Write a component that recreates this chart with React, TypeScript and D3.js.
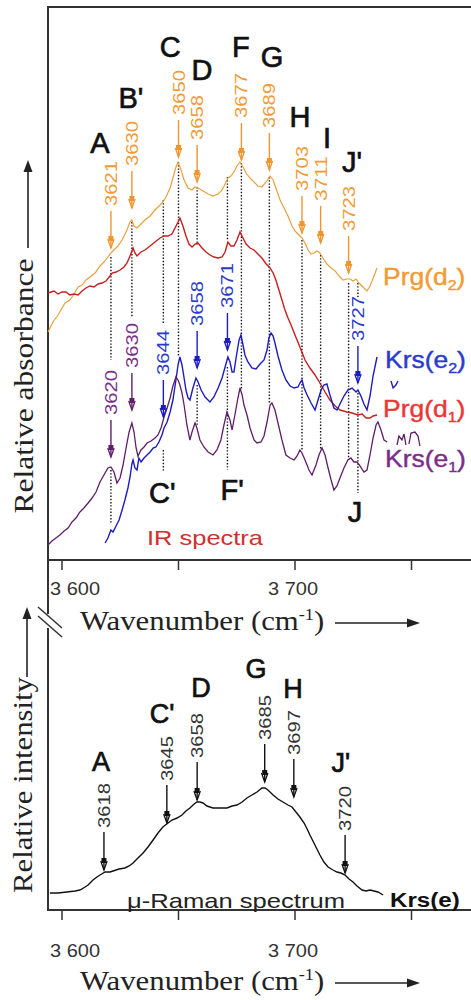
import React from "react";
import * as d3 from "d3";

// ---------------- data ----------------
// IR spectra, relative absorbance (arbitrary units) vs wavenumber (cm-1)
const prgD2Wn = [3594.0,3596.1,3598.3,3601.3,3603.4,3605.2,3606.9,3608.6,3610.3,3612.0,3614.2,3616.3,3618.0,3619.7,3621.0,3622.3,3624.0,3625.8,3627.5,3629.2,3630.0,3630.9,3632.2,3633.9,3635.6,3637.8,3639.9,3642.1,3643.3,3644.6,3646.4,3647.6,3648.9,3649.8,3651.1,3652.4,3654.1,3655.8,3657.1,3658.4,3660.5,3662.7,3664.8,3667.0,3668.7,3670.0,3671.2,3672.5,3673.8,3675.1,3676.4,3677.7,3679.0,3680.7,3682.4,3684.1,3685.8,3687.6,3689.3,3690.6,3691.8,3693.6,3695.3,3697.0,3698.7,3700.4,3702.1,3703.0,3704.3,3705.6,3706.9,3708.2,3709.4,3710.7,3712.0,3713.7,3715.5,3717.2,3718.9,3720.6,3722.3,3723.6,3724.9,3726.2,3727.5,3729.2,3730.9,3732.2,3733.9,3735.2];
const prgD2Abs = [45.6,47.6,49.0,51.4,52.0,53.2,54.6,55.0,56.0,56.6,57.4,58.8,59.6,60.6,61.4,62.0,62.8,64.0,65.6,67.6,68.0,66.8,66.4,67.2,68.0,68.8,70.0,71.0,71.6,72.6,74.4,76.4,78.6,79.6,78.0,76.0,74.4,74.0,74.6,74.4,73.8,73.2,72.8,73.2,74.0,75.2,76.4,76.8,77.6,78.8,79.6,78.6,77.4,76.4,75.6,74.8,74.6,75.6,76.8,76.0,74.4,72.0,70.4,68.8,66.8,65.6,64.8,64.4,63.4,62.0,61.2,61.4,61.8,61.4,60.4,59.2,58.4,57.8,56.8,56.0,56.2,56.2,55.8,56.2,55.4,54.6,53.8,54.8,56.8,58.4];

const prgD1Wn = [3594.0,3596.6,3598.3,3600.0,3601.7,3603.4,3605.2,3606.9,3608.6,3610.3,3612.0,3613.7,3615.5,3617.2,3618.9,3620.6,3621.5,3623.2,3624.9,3626.6,3627.9,3629.2,3630.5,3631.3,3632.2,3633.9,3635.6,3637.8,3639.9,3642.1,3643.8,3645.5,3647.2,3648.5,3649.8,3650.6,3651.9,3653.2,3654.5,3655.8,3657.1,3658.4,3660.1,3661.8,3663.5,3665.2,3667.0,3668.7,3670.0,3671.2,3672.5,3673.8,3675.1,3676.4,3677.7,3679.0,3680.7,3682.4,3684.1,3685.8,3687.6,3689.3,3690.6,3691.8,3693.1,3694.4,3695.7,3697.0,3698.3,3700.0,3702.1,3704.3,3706.4,3708.6,3710.7,3712.9,3715.0,3717.2,3719.3,3722.3,3724.5,3727.0,3728.8,3730.5,3732.2,3733.5,3735.2];
const prgD1Abs = [53.4,53.8,53.2,53.6,53.6,53.0,53.2,53.0,53.8,54.4,54.8,54.6,55.2,55.4,55.8,56.8,57.4,57.6,58.0,58.6,59.4,60.8,62.4,61.4,60.8,61.6,62.0,62.8,63.6,64.4,64.8,64.8,65.2,66.4,67.6,68.4,66.8,64.8,63.2,62.6,63.2,63.4,62.4,61.6,61.0,60.6,60.4,60.6,61.6,63.6,62.8,62.8,64.0,65.6,64.4,63.2,62.4,62.0,61.2,60.4,59.2,58.4,57.4,56.0,54.0,52.0,50.0,48.4,47.0,45.0,42.6,40.0,38.4,37.0,35.4,33.6,32.0,30.8,30.0,29.6,29.4,29.0,29.2,28.4,28.4,28.8,29.0];

const krsE2Wn = [3618.5,3619.7,3621.0,3621.9,3623.2,3624.5,3625.8,3627.0,3628.3,3629.2,3630.0,3630.5,3631.3,3632.2,3633.0,3633.9,3635.2,3636.5,3637.8,3639.1,3640.3,3641.6,3642.9,3643.8,3645.1,3646.4,3647.6,3648.9,3649.8,3650.6,3651.5,3652.4,3653.2,3654.1,3654.9,3656.2,3657.5,3658.4,3659.7,3661.4,3663.5,3665.2,3667.0,3668.7,3670.0,3671.2,3672.1,3673.0,3673.8,3674.7,3676.0,3676.8,3677.7,3678.5,3679.8,3681.5,3683.3,3685.0,3686.7,3688.0,3688.8,3689.7,3690.6,3691.4,3692.7,3694.4,3696.1,3697.9,3699.6,3701.3,3702.1,3703.0,3703.9,3705.2,3706.9,3708.6,3709.9,3711.2,3712.4,3713.7,3715.0,3716.7,3718.0,3719.3,3721.0,3722.7,3724.5,3726.2,3727.0,3728.3,3729.6,3730.9,3732.2,3733.5,3735.2];
const krsE2Abs = [3.4,4.4,6.0,5.6,6.8,8.0,10.0,12.0,14.4,16.6,19.2,20.0,18.4,18.0,20.4,19.6,20.4,21.0,21.6,22.4,22.6,23.6,25.0,26.4,27.6,29.6,32.0,36.0,39.0,40.6,39.0,36.4,34.0,32.4,32.0,34.4,36.4,35.6,34.0,32.6,31.6,32.6,34.4,36.4,38.6,40.6,39.6,37.6,37.6,40.4,44.0,45.0,43.0,41.0,39.6,38.4,38.2,39.2,40.0,42.0,44.4,45.4,44.8,43.4,40.8,38.0,36.0,34.8,34.4,34.6,35.4,36.0,34.4,33.0,31.4,30.0,32.0,34.0,35.0,35.2,33.0,30.4,30.0,31.2,32.8,34.0,34.4,33.6,34.0,32.8,31.2,30.0,32.8,36.8,40.6];
const krsE2FragWn = [3741.2,3742.1,3743.3,3744.2];
const krsE2FragAbs = [35.8,34.4,35.0,35.8];

const krsE1Wn = [3594.0,3595.7,3597.4,3599.1,3600.9,3602.6,3604.3,3606.0,3607.7,3609.4,3611.2,3612.9,3614.6,3616.3,3618.0,3619.7,3621.0,3622.3,3623.6,3624.9,3626.2,3627.5,3628.8,3630.0,3630.9,3631.8,3632.6,3633.9,3635.2,3636.5,3638.2,3639.9,3641.2,3642.5,3643.8,3645.1,3646.4,3647.6,3648.9,3649.8,3650.6,3651.5,3652.4,3653.6,3654.9,3655.8,3657.1,3657.9,3659.2,3660.9,3662.7,3664.8,3666.5,3668.2,3669.5,3670.8,3672.1,3673.0,3674.2,3675.5,3676.4,3677.3,3678.1,3679.4,3680.7,3682.4,3683.7,3685.4,3686.7,3688.0,3689.3,3690.1,3691.4,3692.7,3694.4,3696.1,3697.9,3699.6,3700.9,3702.1,3703.0,3704.3,3706.0,3707.3,3709.0,3710.3,3711.6,3712.9,3714.2,3715.5,3716.7,3718.0,3719.3,3721.0,3722.7,3724.0,3725.3,3726.6,3727.9,3729.6,3730.9,3732.2,3733.5,3734.8,3735.6,3736.9,3738.2,3739.5];
const krsE1Abs = [3.0,3.8,4.4,5.0,5.8,6.4,7.6,8.4,9.6,10.4,11.4,12.4,13.6,15.6,17.0,18.4,18.6,17.6,15.4,16.4,19.0,22.4,25.6,27.4,25.6,22.4,20.8,22.0,22.6,23.4,23.8,24.4,25.0,26.4,28.6,30.4,32.4,34.8,36.6,36.0,35.0,33.4,31.0,27.0,24.0,25.6,27.4,26.4,24.0,22.6,21.6,21.0,22.0,24.0,27.0,29.6,28.0,26.0,29.0,32.4,34.4,33.0,31.0,29.0,26.4,24.0,23.4,23.6,24.8,27.6,31.0,31.4,30.0,27.4,24.0,21.0,20.4,20.0,20.8,22.0,21.4,20.0,18.0,17.0,19.0,21.0,22.4,21.0,18.4,16.0,14.0,14.8,16.4,18.4,20.0,20.4,19.6,19.6,18.8,17.6,18.0,21.0,24.4,27.0,27.6,26.0,24.0,23.6];
const krsE1FragWn = [3743.8,3744.6,3745.9,3746.8,3747.6,null,3748.9,3749.8,3751.5,3752.8,3753.6];
const krsE1FragAbs = [23.0,24.8,24.0,25.2,23.0,null,23.2,25.4,25.6,24.8,22.8];

// micro-Raman spectrum, relative intensity
const ramanWn = [3594.8,3598.3,3602.1,3605.6,3607.7,3609.9,3611.2,3613.3,3615.0,3616.3,3618.5,3620.6,3621.9,3624.5,3627.0,3628.8,3630.5,3632.6,3634.8,3636.9,3639.1,3641.2,3643.3,3645.5,3647.2,3649.4,3651.5,3653.2,3654.9,3656.7,3657.9,3659.2,3660.5,3662.2,3664.8,3667.8,3670.8,3673.0,3675.1,3677.3,3679.4,3681.5,3683.7,3685.8,3687.1,3688.4,3690.6,3692.7,3694.8,3697.0,3698.7,3700.4,3702.1,3703.9,3705.2,3706.4,3707.7,3709.4,3710.7,3712.4,3714.2,3716.3,3718.0,3719.7,3721.5,3723.2,3724.9,3726.6,3728.8,3730.5,3732.2,3733.9,3735.6,3737.8];
const ramanInt = [3.4,3.4,3.6,3.8,4.0,4.6,5.0,6.0,6.6,7.0,7.6,7.6,7.8,8.2,8.4,8.8,9.4,10.4,11.4,12.6,14.0,15.4,16.6,17.4,18.0,18.4,19.0,19.8,20.4,21.2,21.6,21.6,21.4,20.8,20.4,20.4,20.4,20.8,21.0,21.6,22.4,23.0,23.6,24.4,24.4,24.0,23.0,22.2,21.6,21.0,20.6,19.6,18.6,17.4,16.2,15.0,13.8,12.2,11.0,9.6,8.6,8.0,7.6,7.4,7.0,6.2,5.6,4.8,4.0,3.8,4.0,3.8,3.6,3.0];

// axis ticks
const xTicks = [3600, 3650, 3700, 3750];
const xTickLabels = ["3 600", "", "3 700", ""];

// IR band letters
const irLetters = ["A", "B'", "C", "D", "F", "G", "H", "I", "J'"];
const irLetterWn = [3616.3, 3629.6, 3646.4, 3660.1, 3676.8, 3690.1, 3702.1, 3713.7, 3724.5];
const irLetterLevel = [81.4, 90.4, 100.6, 96.0, 100.6, 98.6, 86.6, 82.4, 77.6];
const irLowLetters = ["C'", "F'", "J"];
const irLowLetterWn = [3643.0, 3673.0, 3725.8];
const irLowLetterLevel = [11.4, 12.0, 7.6];

// peak labels (orange = Prg(d2), blue = Krs(e2), purple = Krs(e1))
const prgD2Peaks = [3621, 3630, 3650, 3658, 3677, 3689, 3703, 3711, 3723];
const prgD2PeakTip = [62.4, 70.4, 80.6, 75.6, 80.0, 78.0, 65.4, 63.4, 57.4];
const krsE2Peaks = [3644, 3658, 3671, 3727];
const krsE2PeakPos = [3643.5, 3658, 3671, 3727];
const krsE2PeakTip = [28.6, 38.4, 42.0, 35.4];
const krsE1Peaks = [3620, 3630];
const krsE1PeakPos = [3621, 3630];
const krsE1PeakTip = [20.6, 30.0];

// dotted guide segments
const guideWn = [3621, 3621, 3630, 3643.5, 3643.5, 3650, 3658, 3658, 3671, 3671, 3677, 3689, 3703, 3711, 3723, 3727, 3727];
const guideFrom = [60.6, 18.0, 67.6, 72.0, 22.0, 79.6, 74.6, 35.0, 76.6, 38.6, 79.4, 76.6, 64.0, 61.0, 55.4, 55.4, 33.4];
const guideTo = [40.0, 7.4, 48.4, 47.4, 17.6, 40.6, 63.0, 27.0, 64.0, 18.0, 34.0, 31.4, 22.0, 22.0, 20.0, 52.6, 13.4];

// Raman band labels
const ramanPeaks = [3618, 3645, 3658, 3685, 3697, 3720];
const ramanPeakPos = [3618, 3645, 3658, 3687, 3699.5, 3721.5];
const ramanPeakTip = [8.0, 17.4, 22.0, 25.6, 22.6, 7.4];
const ramanLetters = ["A", "C'", "D", "G", "H", "J'"];
const ramanLetterWn = [3616.7, 3643.0, 3659.7, 3683.3, 3699.1, 3719.7];
const ramanLetterLevel = [27.8, 37.4, 42.6, 46.4, 42.4, 27.6];

// ---------------- styles ----------------
const SANS = "'Liberation Sans', Arial, sans-serif";
const SERIF = "'Liberation Serif', 'Times New Roman', serif";
const C_ORANGE = "#E9A13E";
const C_ORANGE_TXT = "#F29A35";
const C_RED = "#C81E1E";
const C_RED_TXT = "#EE3535";
const C_BLUE = "#1C1CC0";
const C_BLUE_TXT = "#2A3BCB";
const C_PURPLE = "#5E1E68";
const C_PURPLE_TXT = "#7A2E8A";
const C_AXIS = "#333";

function PeakMark({ x, tip, label, color, textColor, len = 37, gap = 5, textLen = 45 }: any) {
  const top = tip - len;
  return (
    <g>
      <line x1={x} x2={x} y1={top} y2={tip} stroke={color} strokeWidth={1.4} />
      <path d={`M${x - 3.2},${tip - 9} L${x},${tip} L${x + 3.2},${tip - 9}`} fill="none" stroke={color} strokeWidth={1.3} />
      <rect x={x - 2.5} y={tip - 12} width={5} height={5} fill={color} />
      <text
        transform={`translate(${x + 6},${top - gap}) rotate(-90)`}
        fontFamily={SANS}
        fontSize={17}
        fill={textColor}
        textLength={textLen}
        lengthAdjust="spacingAndGlyphs"
      >
        {label}
      </text>
    </g>
  );
}

export default function App() {
  const x = d3.scaleLinear().domain([3600, 3700]).range([62, 295]);
  const yTop = d3.scaleLinear().domain([0, 110]).range([560, 10]);
  const yBot = d3.scaleLinear().domain([0, 60]).range([910, 610]);

  const path = (wn: (number | null)[], v: (number | null)[], y: any) =>
    d3
      .line<number>()
      .defined((i) => v[i] != null && wn[i] != null)
      .x((i) => x(wn[i] as number))
      .y((i) => y(v[i] as number))(d3.range(wn.length)) || "";

  const left = 48;
  const right = 471;
  const topAxisY = yTop(0);
  const botAxisY = yBot(0);

  const tickLabel = (v: number) => Math.max(x(v) - 27, 50);

  const curveLabel = (txt: string, sub: string, xx: number, yy: number, color: string, bold = false) => (
    <text
      transform={`translate(${xx},${yy}) scale(1.15,1)`}
      fontFamily={SANS}
      fontSize={bold ? 21 : 23}
      fontWeight={bold ? "bold" : "normal"}
      fill={color}
      stroke={bold ? "none" : color}
      strokeWidth={bold ? 0 : 0.4}
    >
      {txt}
      {sub ? (
        <>
          <tspan dy={5} fontSize={14}>{sub}</tspan>
          <tspan dy={-5}>)</tspan>
        </>
      ) : null}
    </text>
  );

  const letterStyle = { fontFamily: SANS, fill: "#111", stroke: "#111", strokeWidth: 0.7 } as any;

  return (
    <svg width={471} height={1000} style={{ position: "absolute", left: 0, top: 0, background: "#fff" }}>
      <rect x={0} y={0} width={471} height={1000} fill="#fff" />

      {/* frame / axes */}
      <line x1={left} x2={right} y1={7} y2={7} stroke={C_AXIS} strokeWidth={2} />
      <line x1={left} x2={left} y1={6} y2={botAxisY + 1} stroke={C_AXIS} strokeWidth={2} />
      <line x1={left} x2={right} y1={topAxisY} y2={topAxisY} stroke={C_AXIS} strokeWidth={2} />
      <line x1={left} x2={right} y1={botAxisY} y2={botAxisY} stroke={C_AXIS} strokeWidth={2} />
      {xTicks.map((t) => (
        <g key={"t" + t}>
          <line x1={x(t)} x2={x(t)} y1={topAxisY} y2={topAxisY + 10} stroke={C_AXIS} strokeWidth={1.5} />
          <line x1={x(t)} x2={x(t)} y1={botAxisY} y2={botAxisY + 10} stroke={C_AXIS} strokeWidth={1.5} />
        </g>
      ))}
      {xTicks.map((t, i) =>
        xTickLabels[i] ? (
          <g key={"tl" + t}>
            <text x={tickLabel(t)} y={595} fontFamily={SANS} fontSize={18} fill="#333" textLength={50} lengthAdjust="spacingAndGlyphs">
              {xTickLabels[i]}
            </text>
            <text x={tickLabel(t)} y={957} fontFamily={SANS} fontSize={18} fill="#333" textLength={50} lengthAdjust="spacingAndGlyphs">
              {xTickLabels[i]}
            </text>
          </g>
        ) : null
      )}

      {/* axis break */}
      <rect x={left - 2} y={614} width={4} height={14} fill="#fff" />
      <line x1={38} y1={607} x2={62} y2={628} stroke={C_AXIS} strokeWidth={1.5} />
      <line x1={38} y1={616} x2={62} y2={637} stroke={C_AXIS} strokeWidth={1.5} />

      {/* x axis titles */}
      {[630, 990].map((yy) => (
        <g key={"xt" + yy}>
          <text transform={`translate(80,${yy}) scale(1.14,1)`} fontFamily={SERIF} fontSize={27} fill="#222">
            Wavenumber (cm
            <tspan dy={-10} fontSize={16}>-1</tspan>
            <tspan dy={10}>)</tspan>
          </text>
          <line x1={335} x2={412} y1={yy - 7} y2={yy - 7} stroke="#222" strokeWidth={1.6} />
          <path d={`M420,${yy - 7} L407,${yy - 11.5} L407,${yy - 2.5} Z`} fill="#222" />
        </g>
      ))}

      {/* y axis titles */}
      <g transform="translate(33,386) rotate(-90)">
        <text textAnchor="middle" fontFamily={SERIF} fontSize={27} fill="#222" textLength={255} lengthAdjust="spacingAndGlyphs">
          Relative absorbance
        </text>
      </g>
      <line x1={28} x2={28} y1={248} y2={168} stroke="#222" strokeWidth={1.6} />
      <path d="M28,160 L23.5,172 L32.5,172 Z" fill="#222" />
      <g transform="translate(32,785) rotate(-90)">
        <text textAnchor="middle" fontFamily={SERIF} fontSize={27} fill="#222" textLength={216} lengthAdjust="spacingAndGlyphs">
          Relative intensity
        </text>
      </g>
      <line x1={27} x2={27} y1={677} y2={615} stroke="#222" strokeWidth={1.6} />
      <path d="M27,607 L22.5,619 L31.5,619 Z" fill="#222" />

      {/* dotted guides */}
      {guideWn.map((w, i) => (
        <line
          key={"g" + i}
          x1={x(w)}
          x2={x(w)}
          y1={yTop(guideFrom[i])}
          y2={yTop(guideTo[i])}
          stroke="#111"
          strokeWidth={1.4}
          strokeDasharray="1.4 1.8"
        />
      ))}

      {/* IR curves */}
      <path d={path(prgD2Wn, prgD2Abs, yTop)} fill="none" stroke={C_ORANGE} strokeWidth={1.2} />
      <path d={path(prgD1Wn, prgD1Abs, yTop)} fill="none" stroke={C_RED} strokeWidth={1.4} />
      <path d={path(krsE2Wn, krsE2Abs, yTop)} fill="none" stroke={C_BLUE} strokeWidth={1.4} />
      <path d={path(krsE2FragWn, krsE2FragAbs, yTop)} fill="none" stroke={C_BLUE} strokeWidth={1.4} />
      <path d={path(krsE1Wn, krsE1Abs, yTop)} fill="none" stroke={C_PURPLE} strokeWidth={1.3} />
      <path d={path(krsE1FragWn as any, krsE1FragAbs as any, yTop)} fill="none" stroke={C_PURPLE} strokeWidth={1.3} />

      {/* peak marks */}
      {prgD2Peaks.map((p, i) => (
        <PeakMark key={"o" + p} x={x(p)} tip={yTop(prgD2PeakTip[i])} label={String(p)} color="#EE9530" textColor={C_ORANGE_TXT} />
      ))}
      {krsE2Peaks.map((p, i) => (
        <PeakMark key={"b" + p} x={x(krsE2PeakPos[i])} tip={yTop(krsE2PeakTip[i])} label={String(p)} color={C_BLUE} textColor={C_BLUE_TXT} />
      ))}
      {krsE1Peaks.map((p, i) => (
        <PeakMark key={"p" + p} x={x(krsE1PeakPos[i])} tip={yTop(krsE1PeakTip[i])} label={String(p)} color={C_PURPLE} textColor={C_PURPLE_TXT} />
      ))}

      {/* letters */}
      {irLetters.map((l, i) => (
        <text key={"L" + i} x={x(irLetterWn[i])} y={yTop(irLetterLevel[i])} textAnchor="middle" fontSize={29} {...letterStyle}>
          {l}
        </text>
      ))}
      {irLowLetters.map((l, i) => (
        <text key={"l" + i} x={x(irLowLetterWn[i])} y={yTop(irLowLetterLevel[i])} textAnchor="middle" fontSize={29} {...letterStyle}>
          {l}
        </text>
      ))}

      <text x={147} y={545} fontFamily={SANS} fontSize={21} fill="#D0302C" textLength={116} lengthAdjust="spacingAndGlyphs">
        IR spectra
      </text>

      {/* curve labels */}
      {curveLabel("Prg(d", "2", 383, 285, C_ORANGE_TXT)}
      {curveLabel("Krs(e", "2", 385, 368, C_BLUE_TXT)}
      {curveLabel("Prg(d", "1", 383, 417, C_RED_TXT)}
      {curveLabel("Krs(e", "1", 385, 467, C_PURPLE_TXT)}

      {/* Raman */}
      <path d={path(ramanWn, ramanInt, yBot)} fill="none" stroke="#111" strokeWidth={1.4} />
      {ramanPeaks.map((p, i) => (
        <PeakMark key={"r" + p} x={x(ramanPeakPos[i])} tip={yBot(ramanPeakTip[i])} label={String(p)} color="#111" textColor="#333" len={38} gap={4} />
      ))}
      {ramanLetters.map((l, i) => (
        <text key={"R" + i} x={x(ramanLetterWn[i])} y={yBot(ramanLetterLevel[i])} textAnchor="middle" fontSize={27} {...letterStyle}>
          {l}
        </text>
      ))}
      <text x={127} y={908} fontFamily={SANS} fontSize={21} fill="#222" textLength={218} lengthAdjust="spacingAndGlyphs">
        μ-Raman spectrum
      </text>
      {curveLabel("Krs(e)", "", 390, 907, "#111", true)}
    </svg>
  );
}
